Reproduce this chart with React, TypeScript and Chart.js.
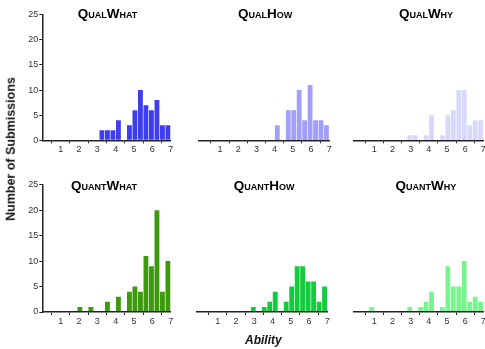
import React, { useEffect, useRef } from 'react';
import { Chart, registerables } from 'chart.js';

Chart.register(...registerables);

// ---------- data ----------
const BIN_CENTERS = [0.85, 1.15, 1.45, 1.75, 2.05, 2.35, 2.65, 2.95, 3.25, 3.55, 3.85, 4.15, 4.45, 4.75, 5.05, 5.35, 5.65, 5.95, 6.25, 6.55, 6.85];
const QUAL_WHAT = [0, 0, 0, 0, 0, 0, 0, 0, 2, 2, 2, 4, 0, 3, 6, 10, 7, 6, 8, 3, 3];
const QUAL_HOW = [0, 0, 0, 0, 0, 0, 0, 0, 0, 0, 0, 3, 0, 6, 6, 10, 4, 11, 4, 4, 3];
const QUAL_WHY = [0, 0, 0, 0, 0, 0, 0, 1, 1, 0, 1, 5, 0, 1, 5, 6, 10, 10, 3, 4, 4];
const QUANT_WHAT = [0, 0, 0, 0, 1, 0, 1, 0, 0, 2, 0, 3, 0, 4, 5, 4, 11, 9, 20, 4, 10];
const QUANT_HOW = [0, 0, 0, 0, 0, 0, 0, 1, 0, 1, 2, 4, 0, 2, 5, 9, 9, 6, 6, 2, 5];
const QUANT_WHY = [1, 0, 0, 0, 0, 0, 0, 1, 0, 1, 2, 4, 0, 1, 9, 5, 5, 10, 2, 3, 2];
const X_TICK_LABELS = ['', '1', '2', '3', '4', '5', '6', '7'];
const Y_TICK_LABELS = ['0', '5', '10', '15', '20', '25'];
const PANEL_TITLES = ['QualWhat', 'QualHow', 'QualWhy', 'QuantWhat', 'QuantHow', 'QuantWhy'];
const Y_AXIS_TITLE = 'Number of Submissions';
const X_AXIS_TITLE = 'Ability';

// ---------- layout / style ----------
const FONT = '"Liberation Sans", Arial, Helvetica, sans-serif';

type PanelSpec = {
  title: string;
  counts: number[];
  color: string;
  plot: [number, number, number, number];
  xMin: number;
  titleX: number;
  titleY: number;
  yAxis: boolean;
};

const PANELS: PanelSpec[] = [
  { title: PANEL_TITLES[0], counts: QUAL_WHAT, color: '#3d3df3', plot: [42.3, 14.7, 170.7, 140.3], xMin: 0, titleX: 107.5, titleY: 18, yAxis: true },
  { title: PANEL_TITLES[1], counts: QUAL_HOW, color: '#a0a0fa', plot: [199.0, 14.7, 329.2, 140.3], xMin: -0.154, titleX: 265, titleY: 18, yAxis: false },
  { title: PANEL_TITLES[2], counts: QUAL_WHY, color: '#d8d8fc', plot: [353.4, 14.7, 483.3, 140.3], xMin: -0.154, titleX: 426, titleY: 18, yAxis: false },
  { title: PANEL_TITLES[3], counts: QUANT_WHAT, color: '#3c9a0c', plot: [42.3, 184.7, 170.7, 312], xMin: 0, titleX: 104, titleY: 190, yAxis: true },
  { title: PANEL_TITLES[4], counts: QUANT_HOW, color: '#12cc3c', plot: [196.6, 184.7, 327.3, 312], xMin: -0.154, titleX: 264.2, titleY: 190, yAxis: false },
  { title: PANEL_TITLES[5], counts: QUANT_WHY, color: '#78f58e', plot: [353.4, 184.7, 483.3, 312], xMin: -0.154, titleX: 425.8, titleY: 190, yAxis: false },
];

const Y_AXIS_W = 30;
const X_AXIS_H = 20;

function Panel({ p }: { p: PanelSpec }) {
  const ref = useRef<HTMLCanvasElement>(null);
  const [L, T, R, B] = p.plot;
  const cLeft = Math.floor(L) - 42;
  const cTop = Math.floor(T) - 14;
  const cW = Math.ceil(R) + 10 - cLeft;
  const cH = Math.ceil(B) + 24 - cTop;

  useEffect(() => {
    if (!ref.current) return;
    const titlePlugin = {
      id: 'panelTitle',
      afterDraw(chart: any) {
        const ctx = chart.ctx as CanvasRenderingContext2D;
        ctx.save();
        ctx.font = `small-caps bold 13.5px ${FONT}`;
        try { (ctx as any).fontVariantCaps = 'small-caps'; } catch (e) { /* ignore */ }
        ctx.fillStyle = '#000';
        ctx.textAlign = 'center';
        ctx.textBaseline = 'alphabetic';
        ctx.fillText(p.title, p.titleX - cLeft, p.titleY - cTop);
        ctx.restore();
      },
    };
    const axisColor = '#222';
    const isLabelled = (v: number) => Number.isInteger(v) && v >= 1 && v <= 7;
    const chart = new Chart(ref.current, {
      type: 'bar',
      data: {
        datasets: [
          {
            data: BIN_CENTERS.map((x, i) => ({ x, y: p.counts[i] })),
            backgroundColor: p.color,
            borderWidth: 0,
            barPercentage: 0.88,
            categoryPercentage: 1,
          } as any,
        ],
      },
      options: {
        animation: false,
        responsive: false,
        devicePixelRatio: 1,
        layout: {
          padding: {
            left: L - cLeft - (p.yAxis ? Y_AXIS_W : 0),
            top: T - cTop,
            right: cLeft + cW - R,
            bottom: cTop + cH - B - X_AXIS_H,
          },
        },
        plugins: {
          legend: { display: false },
          tooltip: { enabled: false },
          title: { display: false },
        },
        scales: {
          x: {
            type: 'linear',
            min: p.xMin,
            max: 7,
            offset: false,
            afterFit: (s: any) => { s.height = X_AXIS_H; },
            ticks: {
              stepSize: 1,
              includeBounds: false,
              autoSkip: false,
              maxRotation: 0,
              padding: 1,
              color: '#333',
              font: { family: FONT, size: 9 },
              callback: (v: any) => (isLabelled(Number(v)) ? X_TICK_LABELS[Number(v)] : ''),
            },
            grid: {
              drawOnChartArea: false,
              drawTicks: true,
              tickLength: 3,
              color: (ctx: any) => (ctx.tick && isLabelled(ctx.tick.value) ? axisColor : 'rgba(0,0,0,0)'),
            },
            border: { display: true, color: axisColor, width: 1.5, z: 1 },
          },
          y: {
            display: p.yAxis,
            min: 0,
            max: 25,
            afterFit: (s: any) => { s.width = p.yAxis ? Y_AXIS_W : 0; },
            ticks: {
              stepSize: 5,
              padding: 1,
              color: '#333',
              font: { family: FONT, size: 9 },
              callback: (_v: any, i: number) => Y_TICK_LABELS[i],
            },
            grid: { drawOnChartArea: false, drawTicks: true, tickLength: 3, color: axisColor },
            border: { display: true, color: axisColor, width: 1.5, z: 1 },
          },
        },
      } as any,
      plugins: [titlePlugin],
    });
    return () => chart.destroy();
  }, []);

  return (
    <canvas
      ref={ref}
      width={cW}
      height={cH}
      style={{ position: 'absolute', left: cLeft, top: cTop, width: cW, height: cH }}
    />
  );
}

export default function App() {
  return (
    <div style={{ position: 'absolute', left: 0, top: 0, width: 485, height: 349, overflow: 'hidden', background: '#fff' }}>
      {PANELS.map((p) => (
        <Panel key={p.title} p={p} />
      ))}
      <div
        style={{
          position: 'absolute',
          left: 11.2,
          top: 148.5,
          transform: 'translate(-50%, -50%) rotate(-90deg)',
          whiteSpace: 'nowrap',
          font: `bold 12.5px ${FONT}`,
          lineHeight: '12.5px',
          color: '#111',
        }}
      >
        {Y_AXIS_TITLE}
      </div>
      <div
        style={{
          position: 'absolute',
          left: 263.3,
          top: 339.5,
          transform: 'translate(-50%, -50%)',
          whiteSpace: 'nowrap',
          font: `italic bold 12px ${FONT}`,
          lineHeight: '12px',
          color: '#111',
        }}
      >
        {X_AXIS_TITLE}
      </div>
    </div>
  );
}
